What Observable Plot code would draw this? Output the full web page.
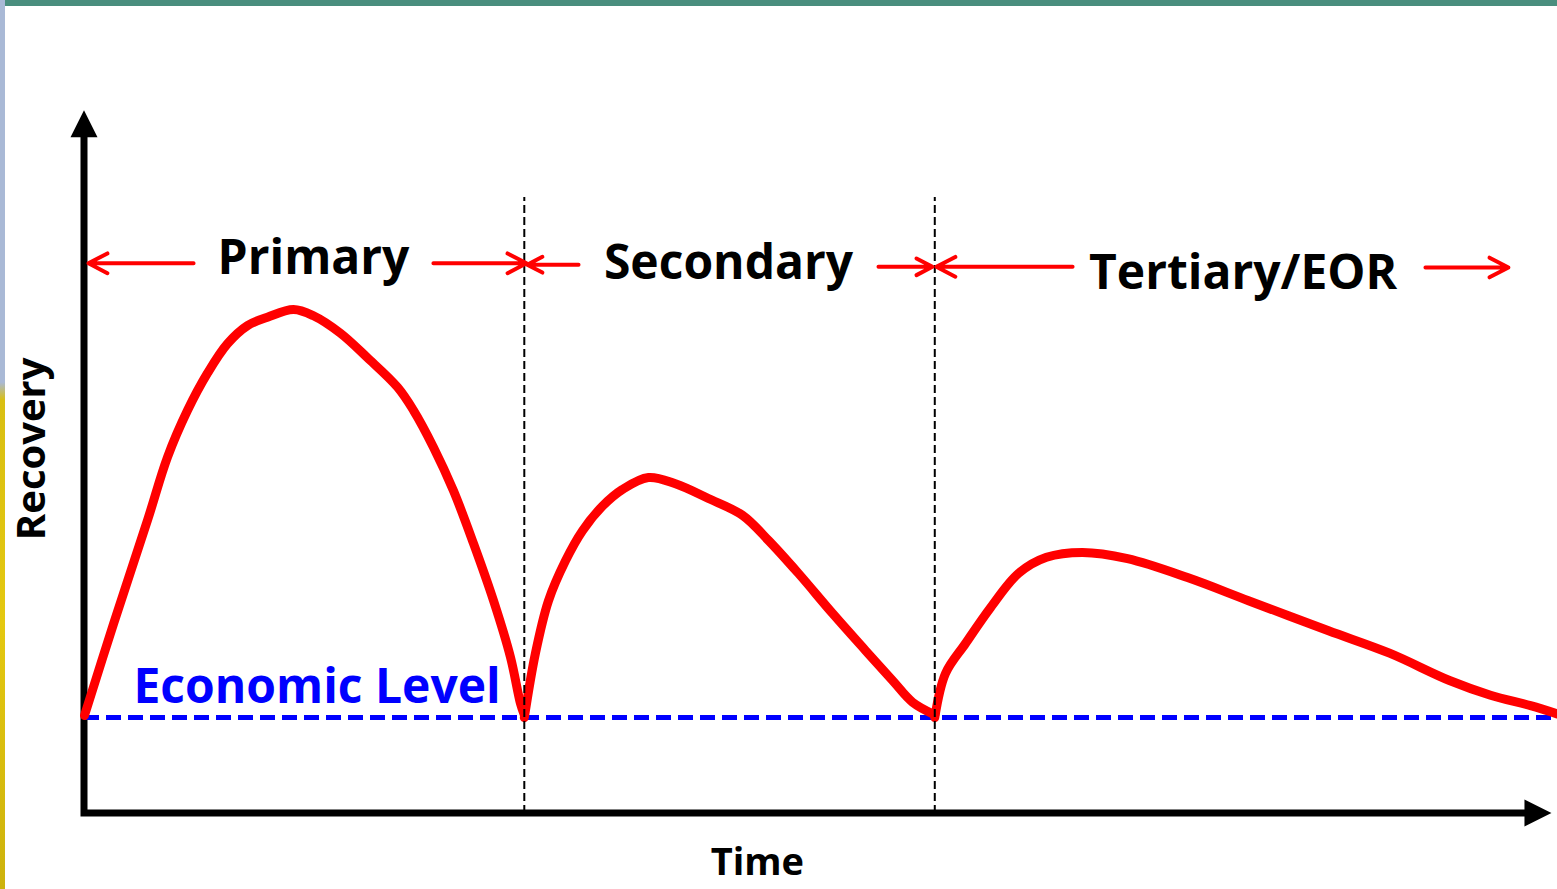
<!DOCTYPE html>
<html>
<head>
<meta charset="utf-8">
<script src="https://cdn.jsdelivr.net/npm/d3@7"></script>
<script src="https://cdn.jsdelivr.net/npm/@observablehq/plot@0.6"></script>
<style>
  html, body { margin: 0; padding: 0; background: #ffffff; overflow: hidden; width: 1557px; height: 889px; }
  #chart { position: absolute; left: 0; top: 0; }
  .band-top { position: absolute; left: 5px; top: 0; width: 1552px; height: 6px; background: #4a8e7e; }
  .band-left { position: absolute; left: 0; top: 0; width: 5px; height: 889px;
    background: linear-gradient(to bottom, #a9b9d6 0%, #a9b9d6 43%, #d9bf12 45%, #e4c810 70%, #cdb20c 100%); }
</style>
</head>
<body>
<div id="chart"></div>
<div class="band-top"></div>
<div class="band-left"></div>
<script>
// ---- Data (schematic units: Time 0–100, Recovery 0–100) ----
const phases = ["Primary", "Secondary", "Tertiary/EOR"];
const phaseBoundaries = [30.0, 58.0];
const boundaryTop = 88;
const economicLevel = 13.7;
const economicLabel = "Economic Level";
const xAxisLabel = "Time";
const yAxisLabel = "Recovery";
const xAxisMax = 100.1;
const yAxisMax = 100.4;

const primaryTime = [0, 1.98, 4.30, 5.66, 7.03, 8.39, 9.75, 11.12, 12.48, 14.26, 15.62, 17.46, 19.30, 21.35, 22.44, 23.81, 25.17, 26.53, 27.90, 29.06, 29.74, 30.0];
const primaryRecovery = [14.0, 27.1, 41.9, 50.9, 57.6, 62.9, 67.1, 69.7, 70.9, 72.0, 71.1, 68.6, 65.1, 60.9, 57.6, 52.3, 46.1, 38.6, 30.4, 22.3, 15.7, 14.1];

const secondaryTime = [30.0, 30.76, 31.65, 32.81, 33.97, 35.33, 36.70, 38.47, 40.31, 42.56, 44.88, 46.66, 48.70, 51.02, 53.27, 55.12, 56.48, 58.0];
const secondaryRecovery = [13.7, 22.9, 30.4, 36.1, 40.4, 43.9, 46.3, 48.0, 47.1, 45.0, 42.6, 39.0, 34.3, 28.6, 23.3, 19.0, 15.9, 14.1];

const tertiaryTime = [58.0, 58.73, 60.10, 61.80, 63.71, 65.62, 68.08, 71.15, 75.24, 79.40, 84.86, 89.02, 93.11, 95.91, 98.64, 100.5];
const tertiaryRecovery = [13.7, 20.0, 24.3, 29.4, 34.3, 36.6, 37.3, 36.4, 33.7, 30.4, 26.1, 22.9, 19.0, 16.9, 15.4, 14.2];

// phase label positions and span arrows
const labelTime = [15.62, 43.93, 79.03];
const labelRecovery = [79.3, 78.5, 77.1];
const arrowFrom = [7.44, 23.8, 33.7, 54.16, 67.4, 91.47];
const arrowTo = [0.27, 30.15, 30.2, 57.84, 58.11, 97.13];
const arrowLevel = [78.6, 78.6, 78.4, 78.1, 78.1, 78.0];

const econLabelTime = 3.34;
const econLabelRecovery = 18.0;
const xLabelPos = [45.9, -7.1];
const yLabelPos = [-3.55, 52.1];

// ---- Build tables ----
const curve = [
  ...primaryTime.map((t, i) => ({phase: phases[0], t, r: primaryRecovery[i]})),
  ...secondaryTime.map((t, i) => ({phase: phases[1], t, r: secondaryRecovery[i]})),
  ...tertiaryTime.map((t, i) => ({phase: phases[2], t, r: tertiaryRecovery[i]}))
];
const labels = phases.map((name, i) => ({name, t: labelTime[i], r: labelRecovery[i]}));
const arrows = arrowFrom.map((f, i) => ({x1: f, x2: arrowTo[i], y: arrowLevel[i]}));

const FONT = "'Open Sans', 'DejaVu Sans', sans-serif";

function axesMark(index, scales) {
  const x = scales.x, y = scales.y;
  const ox = x(0), oy = y(0);
  const tipX = x(xAxisMax), tipY = y(yAxisMax);
  const head = 27, half = 13.5;
  const g = d3.create("svg:g");
  g.append("path")
    .attr("fill", "none").attr("stroke", "black").attr("stroke-width", 7)
    .attr("stroke-linejoin", "miter").attr("stroke-linecap", "butt")
    .attr("d", `M${ox},${tipY + head - 1}V${oy}H${tipX - head + 1}`);
  g.append("path").attr("fill", "black")
    .attr("d", `M${ox},${tipY}L${ox - half},${tipY + head}L${ox + half},${tipY + head}Z`);
  g.append("path").attr("fill", "black")
    .attr("d", `M${tipX},${oy}L${tipX - head},${oy - half}L${tipX - head},${oy + half}Z`);
  return g.node();
}

const chart = Plot.plot({
  width: 1557,
  height: 889,
  marginLeft: 84,
  marginRight: 7,
  marginTop: 113,
  marginBottom: 76,
  x: {domain: [0, 100], axis: null},
  y: {domain: [0, 100], axis: null},
  style: {background: "transparent", overflow: "visible"},
  marks: [
    axesMark,
    Plot.ruleY([economicLevel], {x1: 0, x2: 100.5, stroke: "#0000ff", strokeWidth: 5, strokeDasharray: "15,7"}),
    Plot.line(curve, {x: "t", y: "r", z: "phase", stroke: "#ff0000", strokeWidth: 9, curve: "catmull-rom", strokeLinejoin: "round", strokeLinecap: "round"}),
    Plot.ruleX(phaseBoundaries, {y1: 0, y2: boundaryTop, stroke: "#000000", strokeWidth: 2, strokeDasharray: "8,4"}),
    Plot.arrow(arrows, {x1: "x1", y1: "y", x2: "x2", y2: "y", stroke: "#ff0000", strokeWidth: 4, headLength: 8, headAngle: 55}),
    Plot.text(labels, {x: "t", y: "r", text: "name", fontSize: 48, fontWeight: "bold", fontFamily: FONT, fill: "#000", lineAnchor: "middle", textAnchor: "middle"}),
    Plot.text([economicLabel], {x: econLabelTime, y: econLabelRecovery, text: d => d, fontSize: 48, fontWeight: "bold", fontFamily: FONT, fill: "#0000ff", textAnchor: "start", lineAnchor: "middle"}),
    Plot.text([xAxisLabel], {x: xLabelPos[0], y: xLabelPos[1], text: d => d, fontSize: 38, fontWeight: "bold", fontFamily: FONT, fill: "#000", textAnchor: "middle", lineAnchor: "middle"}),
    Plot.text([yAxisLabel], {x: yLabelPos[0], y: yLabelPos[1], text: d => d, fontSize: 40, fontWeight: "bold", fontFamily: FONT, fill: "#000", textAnchor: "middle", lineAnchor: "middle", rotate: -90})
  ]
});
document.getElementById("chart").appendChild(chart);
</script>
</body>
</html>
